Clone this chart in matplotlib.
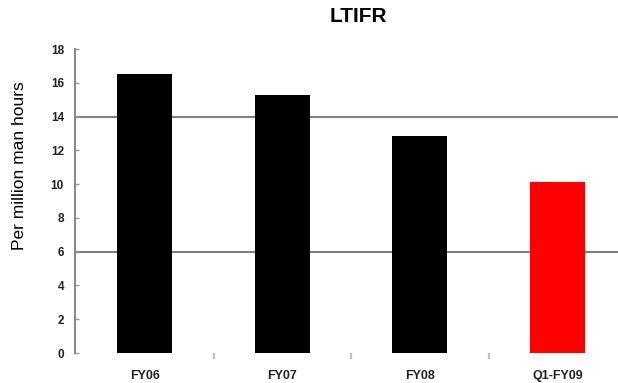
import numpy as np
import matplotlib
matplotlib.use('Agg')
import matplotlib.pyplot as plt

# Dades del gràfic
categories = ['FY06', 'FY07', 'FY08', 'Q1-FY09']
ltifr = [16.5, 15.3, 12.85, 10.1]
colors = ['black', 'black', 'black', 'red']
yticks = np.arange(0, 19, 2)
gridlines = [6, 14]

plt.rcParams['font.family'] = ['Liberation Sans', 'DejaVu Sans']

fig = plt.figure(figsize=(6.18, 3.83), dpi=100)
ax = fig.add_axes([75/618, 30/383, 543/618, 304/383])

x = np.arange(len(categories))
ax.bar(x, ltifr, width=0.40, color=colors, zorder=2)

# Línies horitzontals de referència
for g in gridlines:
    ax.axhline(g, color='#7f7f7f', lw=1.5, zorder=1)

ax.set_xlim(-0.509, 3.44)
ax.set_ylim(0, 18)
ax.set_yticks(yticks)
ax.set_yticklabels([str(t) for t in yticks], fontsize=8.5, fontweight='bold', color='#222222')
ax.tick_params(axis='y', direction='in', length=3, width=1, color='#9a9a9a', pad=8)

ax.set_xticks(x)
ax.set_xticklabels(categories, fontsize=9, fontweight='bold', color='#222222')
ax.tick_params(axis='x', length=0, pad=12)
# petites marques entre categories
ax.set_xticks(x[:-1] + 0.5, minor=True)
ax.tick_params(axis='x', which='minor', direction='out', length=4, width=1.5, color='#c0c0c0')

for side in ['top', 'right', 'bottom']:
    ax.spines[side].set_visible(False)
ax.spines['left'].set_color('#8a8a8a')
ax.spines['left'].set_linewidth(1.5)

fig.text(358/618, 1 - 17/383, 'LTIFR', ha='center', va='center', fontsize=15, fontweight='bold')
fig.text(20/618, 1 - 166/383, 'Per million man hours', ha='center', va='center',
         rotation=90, fontsize=12.5)

plt.savefig('out.png', dpi=100)
